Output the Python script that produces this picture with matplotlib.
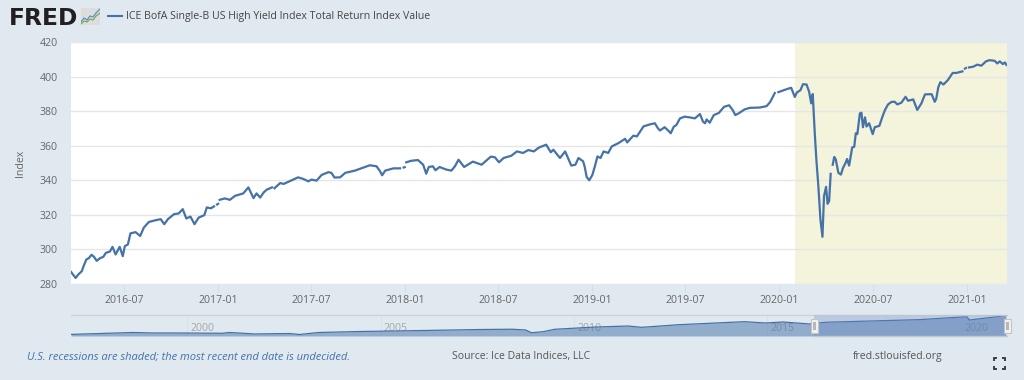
import matplotlib
matplotlib.use('Agg')
import matplotlib.pyplot as plt
from matplotlib.patches import Rectangle, FancyBboxPatch
from matplotlib.lines import Line2D
import numpy as np
import pandas as pd

title = 'ICE BofA Single-B US High Yield Index Total Return Index Value'
nan = float('nan')

# by stretch of the chart
dates_2016 = ['2016-03-20', '2016-03-24', '2016-03-29', '2016-04-03', '2016-04-10', '2016-04-14', '2016-04-19',
              '2016-04-24', '2016-04-29', '2016-05-04', '2016-05-09', '2016-05-16', '2016-05-22', '2016-05-27',
              '2016-06-04', '2016-06-09', '2016-06-15', '2016-06-23', '2016-06-29', '2016-07-03', '2016-07-09',
              '2016-07-14', '2016-07-24', '2016-08-02', '2016-08-09', '2016-08-19', '2016-09-01', '2016-09-11',
              '2016-09-18', '2016-09-25', '2016-10-07', '2016-10-16', '2016-10-24', '2016-10-31', '2016-11-08',
              '2016-11-16', '2016-11-24', '2016-12-05', '2016-12-10', '2016-12-18', '2016-12-24', '2016-12-27',
              '2016-12-30', '2017-01-01', '2017-01-03']
values_2016 = [287.0, 285.4, 283.5, 285.4, 287.4, 290.7, 294.2,
               295.0, 296.9, 295.7, 293.4, 295.0, 295.7, 298.0,
               298.8, 301.5, 297.1, 301.5, 296.1, 301.9, 302.9,
               309.3, 310.0, 307.8, 312.6, 315.9, 316.9, 317.5,
               314.6, 317.5, 320.4, 320.8, 323.3, 317.9, 319.0,
               314.6, 318.4, 319.8, 324.3, 323.8, 324.9, nan,
               326.0, 326.4, nan]

dates_2017 = ['2017-01-04', '2017-01-14', '2017-01-24', '2017-02-03', '2017-02-19', '2017-03-01', '2017-03-11',
              '2017-03-17', '2017-03-24', '2017-03-31', '2017-04-06', '2017-04-16', '2017-04-19', '2017-04-21',
              '2017-05-02', '2017-05-09', '2017-05-23', '2017-06-06', '2017-06-16', '2017-06-26', '2017-07-02',
              '2017-07-12', '2017-07-22', '2017-08-04', '2017-08-10', '2017-08-16', '2017-08-27', '2017-09-06',
              '2017-09-25', '2017-10-08', '2017-10-24', '2017-11-06', '2017-11-13', '2017-11-17', '2017-11-23',
              '2017-12-09', '2017-12-22', '2017-12-25', '2017-12-29', '2017-12-31', '2018-01-01']
values_2017 = [328.7, 329.5, 328.7, 331.0, 332.4, 335.9, 329.7,
               332.4, 330.0, 333.0, 334.6, 335.9, nan, 335.4,
               338.4, 337.9, 339.8, 341.7, 340.8, 339.4, 340.4,
               339.8, 343.1, 344.7, 344.3, 341.6, 341.7, 344.3,
               345.6, 347.0, 348.7, 348.1, 345.2, 342.9, 345.6,
               346.9, 346.9, nan, 347.4, 347.6, nan]

dates_2018 = ['2018-01-03', '2018-01-13', '2018-01-26', '2018-02-05', '2018-02-11', '2018-02-16', '2018-02-24',
              '2018-03-01', '2018-03-09', '2018-03-22', '2018-04-01', '2018-04-08', '2018-04-15', '2018-04-26',
              '2018-05-13', '2018-05-30', '2018-06-17', '2018-06-25', '2018-07-03', '2018-07-12', '2018-07-27',
              '2018-08-07', '2018-08-19', '2018-08-29', '2018-09-09', '2018-09-18', '2018-10-03', '2018-10-12',
              '2018-10-17', '2018-10-22', '2018-10-30', '2018-11-09', '2018-11-21', '2018-11-29', '2018-12-05',
              '2018-12-14', '2018-12-17', '2018-12-21', '2018-12-26']
values_2018 = [350.4, 351.3, 351.7, 349.0, 343.8, 347.7, 348.1,
               345.8, 347.7, 346.2, 345.6, 348.1, 351.9, 347.7,
               350.8, 349.0, 353.7, 353.3, 350.4, 352.9, 354.2,
               356.7, 355.8, 357.5, 356.7, 358.8, 360.6, 356.2,
               357.7, 355.8, 352.9, 356.7, 348.5, 349.0, 352.9,
               351.0, 348.0, 341.9, 340.0]

dates_2019 = ['2019-01-01', '2019-01-06', '2019-01-11', '2019-01-17', '2019-01-23', '2019-02-01', '2019-02-08',
              '2019-02-21', '2019-03-06', '2019-03-10', '2019-03-22', '2019-03-29', '2019-04-11', '2019-04-23',
              '2019-05-03', '2019-05-09', '2019-05-13', '2019-05-22', '2019-05-31', '2019-06-03', '2019-06-09',
              '2019-06-14', '2019-06-21', '2019-06-30', '2019-07-10', '2019-07-20', '2019-07-30', '2019-08-05',
              '2019-08-09', '2019-08-12', '2019-08-18', '2019-08-26', '2019-09-05', '2019-09-15', '2019-09-25',
              '2019-10-02', '2019-10-07', '2019-10-15', '2019-10-25', '2019-11-04', '2019-11-24', '2019-12-07',
              '2019-12-14', '2019-12-23', '2019-12-26', '2019-12-30', '2020-01-18', '2020-01-24', '2020-01-31']
values_2019 = [343.0, 348.1, 353.8, 352.9, 356.7, 355.8, 359.6,
               361.5, 364.0, 361.9, 365.8, 365.4, 371.2, 372.3,
               373.0, 370.1, 368.8, 370.7, 368.2, 367.2, 371.0,
               372.0, 375.8, 376.8, 376.4, 375.8, 378.3, 373.9,
               373.0, 375.2, 373.3, 377.7, 379.0, 382.5, 383.4,
               380.6, 377.7, 379.0, 381.0, 381.9, 382.1, 382.9,
               385.3, 390.5, nan, 391.0, 393.0, 393.5, 388.2]

dates_2020 = ['2020-02-04', '2020-02-11', '2020-02-16', '2020-02-23', '2020-02-28', '2020-03-03', '2020-03-06',
              '2020-03-10', '2020-03-13', '2020-03-17', '2020-03-21', '2020-03-25', '2020-03-28', '2020-04-01',
              '2020-04-04', '2020-04-07', '2020-04-10', '2020-04-12', '2020-04-14', '2020-04-17', '2020-04-20',
              '2020-04-25', '2020-04-30', '2020-05-04', '2020-05-08', '2020-05-12', '2020-05-16', '2020-05-22',
              '2020-05-26', '2020-05-29', '2020-06-01', '2020-06-06', '2020-06-09', '2020-06-12', '2020-06-16',
              '2020-06-19', '2020-06-24', '2020-07-01', '2020-07-05', '2020-07-14', '2020-07-20', '2020-07-25',
              '2020-07-31', '2020-08-07', '2020-08-13', '2020-08-18', '2020-08-26', '2020-09-03', '2020-09-08',
              '2020-09-18', '2020-09-26', '2020-10-04', '2020-10-11', '2020-10-24', '2020-10-30', '2020-11-02',
              '2020-11-06', '2020-11-10', '2020-11-16', '2020-11-25', '2020-12-04', '2020-12-11', '2020-12-23',
              '2020-12-26', '2020-12-28', '2020-12-30', '2021-01-02', '2021-01-05', '2021-01-13', '2021-01-21',
              '2021-01-29', '2021-02-07', '2021-02-14', '2021-02-24', '2021-03-01', '2021-03-06', '2021-03-12',
              '2021-03-16', '2021-03-19']
values_2020 = [390.8, 392.1, 395.6, 395.4, 391.2, 384.5, 389.9,
               367.2, 352.3, 336.6, 317.4, 307.3, 330.8, 336.2,
               326.4, 328.0, 343.7, nan, 349.0, 353.5, 352.0,
               344.3, 343.3, 347.1, 349.4, 352.3, 348.5, 359.0,
               359.4, 367.2, 366.7, 378.7, 379.1, 370.7, 376.4,
               371.1, 373.0, 366.7, 370.7, 371.5, 376.8, 380.7,
               383.9, 385.4, 385.4, 383.9, 384.9, 388.3, 386.0,
               386.8, 380.7, 384.5, 389.7, 389.8, 385.4, 387.2,
               393.9, 396.8, 395.4, 398.1, 402.1, 402.1, 403.0,
               nan, 404.6, 405.0, nan, 405.3, 405.7, 406.9,
               406.3, 408.8, 409.5, 409.1, 407.6, 408.8, 407.2,
               408.2, 406.7]

y_ticks = [280, 300, 320, 340, 360, 380, 400, 420]
x_ticks = ['2016-07-01', '2017-01-01', '2017-07-01', '2018-01-01', '2018-07-01',
           '2019-01-01', '2019-07-01', '2020-01-01', '2020-07-01', '2021-01-01']
x_tick_labels = ['2016-07', '2017-01', '2017-07', '2018-01', '2018-07',
                 '2019-01', '2019-07', '2020-01', '2020-07', '2021-01']
recession = ['2020-02-01', '2021-03-20']

# overview strip under the chart
nav_years = [1997.0, 1998.6, 1999.1, 2000.0, 2000.9, 2001.1, 2001.75, 2002.65, 2002.9, 2003.4, 2004.5, 2005.35,
             2007.55, 2008.4, 2008.75, 2008.9, 2009.2, 2009.5, 2010.55, 2011.4, 2011.75, 2012.7, 2014.4,
             2014.95, 2015.4, 2016.1, 2016.5, 2018.95, 2020.15, 2020.22, 2021.15]
nav_values = [93, 125, 117, 116, 112, 125, 100, 108, 91, 125, 142, 150,
              175, 180, 167, 121, 138, 179, 217, 234, 212, 256, 307,
              285, 302, 268, 297, 342, 391, 335, 408]
nav_labels = [2000, 2005, 2010, 2015, 2020]

bg = '#e1e9f0'
blue = '#4572a7'


def fx(x):
    return x / 1024


def fy(y):
    return 1 - y / 380


def axes_px(left, top, right, bottom):
    return [fx(left), fy(bottom), (right - left) / 1024, (bottom - top) / 380]


plt.rcParams['font.family'] = ['Open Sans', 'DejaVu Sans']
fig = plt.figure(figsize=(10.24, 3.8), dpi=100, facecolor=bg)

dates = pd.to_datetime(dates_2016 + dates_2017 + dates_2018 + dates_2019 + dates_2020)
values = np.array(values_2016 + values_2017 + values_2018 + values_2019 + values_2020)

ax = fig.add_axes(axes_px(71, 42, 1007, 284))
ax.set_facecolor('white')
ax.axvspan(pd.Timestamp(recession[0]), pd.Timestamp(recession[1]), color='#f4f3dc', lw=0, zorder=1)
ax.plot(dates, values, color=blue, linewidth=1.6, zorder=3)
ax.set_xlim(pd.Timestamp('2016-03-20'), pd.Timestamp('2021-03-20'))
ax.set_ylim(280, 420)
ax.set_yticks(y_ticks)
ax.set_xticks(pd.to_datetime(x_ticks))
ax.set_xticklabels(x_tick_labels)
ax.grid(axis='y', color='#e6e6e6', linewidth=1, zorder=2)
ax.set_axisbelow(False)
ax.tick_params(axis='y', length=0, pad=9.5, labelsize=7.6, labelcolor='#666666')
ax.tick_params(axis='x', length=5.5, width=0.7, color='#d3dcea', pad=2.5, labelsize=7.6, labelcolor='#666666')
for s in ax.spines.values():
    s.set_visible(False)
fig.text(fx(21), fy(163), 'Index', rotation=90, ha='center', va='center', fontsize=7.6, color='#666666')

# overview
nav = fig.add_axes(axes_px(71, 314.5, 1007, 336))
nav.patch.set_alpha(0)
nav.set_xlim(1997.0, 2021.19)
nav.set_ylim(66, 428)
for year in nav_labels:
    nav.axvline(year, color='#d8e0ea', linewidth=0.7, zorder=1)
    nav.text(year + 0.08, 184, str(year), fontsize=7.6, color='#a6a6a6', va='center', ha='left', zorder=1)
nav.fill_between(nav_years, nav_values, 66, color=blue, alpha=0.5, lw=0, zorder=2)
nav.plot(nav_years, nav_values, color=blue, linewidth=0.9, zorder=3)
nav.axvspan(2016.2, 2021.19, color='#6685c2', alpha=0.3, lw=0, zorder=4)
nav.set_xticks([])
nav.set_yticks([])
for s in nav.spines.values():
    s.set_visible(False)
fig.add_artist(Line2D([fx(71), fx(814)], [fy(314.5), fy(314.5)], color='#cfd2d6', linewidth=1))
fig.add_artist(Line2D([fx(814), fx(1007)], [fy(314.5), fy(314.5)], color='#c0c6d0', linewidth=1))
fig.add_artist(Line2D([fx(814), fx(1007)], [fy(336), fy(336)], color='#c0c6d0', linewidth=1))

for hx in [814, 1007]:
    fig.add_artist(FancyBboxPatch((fx(hx - 3.5), fy(332.5)), 7 / 1024, 14 / 380, boxstyle='square,pad=0',
                                  facecolor='#f2f2f2', edgecolor='#c4c4c4', linewidth=0.8))
    fig.add_artist(Rectangle((fx(hx - 1.5), fy(329.5)), 3 / 1024, 8 / 380, facecolor='#b8b8b8', edgecolor='none'))

# logo and legend line
fig.text(fx(8.5), fy(25), 'FRED', fontsize=16.8, fontweight='bold', family=['DejaVu Sans'],
         color='#231f20', ha='left', va='baseline')
logo = fig.add_axes(axes_px(81, 8, 100, 25))
logo.set_facecolor('#dcdddd')
logo.set_xticks([])
logo.set_yticks([])
for s in logo.spines.values():
    s.set_visible(False)
logo.plot([0, 3, 6, 9, 12, 15, 19], [3, 7, 5, 9, 8, 12, 16], color='#5b8fc4', linewidth=0.9)
logo.plot([0, 3, 6, 9, 12, 15, 19], [1, 4, 3, 6, 5, 9, 12], color='#7fa85a', linewidth=0.9)
logo.set_xlim(0, 19)
logo.set_ylim(0, 17)
fig.add_artist(Line2D([fx(108), fx(122)], [fy(16), fy(16)], color=blue, linewidth=1.5))
fig.text(fx(126.5), fy(16.5), title, fontsize=7.6, color='#444444', ha='left', va='center')

# footer
fig.text(fx(27), fy(357), 'U.S. recessions are shaded; the most recent end date is undecided.',
         fontsize=8, style='italic', color=blue, ha='left', va='center')
fig.text(fx(452), fy(357), 'Source: Ice Data Indices, LLC', fontsize=7.5, color='#555555', ha='left', va='center')
fig.text(fx(853), fy(357), 'fred.stlouisfed.org', fontsize=7.6, color='#555555', ha='left', va='center')

# fullscreen icon
for cx, cy, dx, dy in [(994, 357.5, 1, 1), (1005, 357.5, -1, 1), (994, 368.5, 1, -1), (1005, 368.5, -1, -1)]:
    fig.add_artist(Line2D([fx(cx + dx * 3), fx(cx), fx(cx)], [fy(cy), fy(cy), fy(cy + dy * 3)],
                          color='#333333', linewidth=1.3, solid_capstyle='butt', solid_joinstyle='miter'))

plt.savefig('out.png', dpi=100, facecolor=bg)
